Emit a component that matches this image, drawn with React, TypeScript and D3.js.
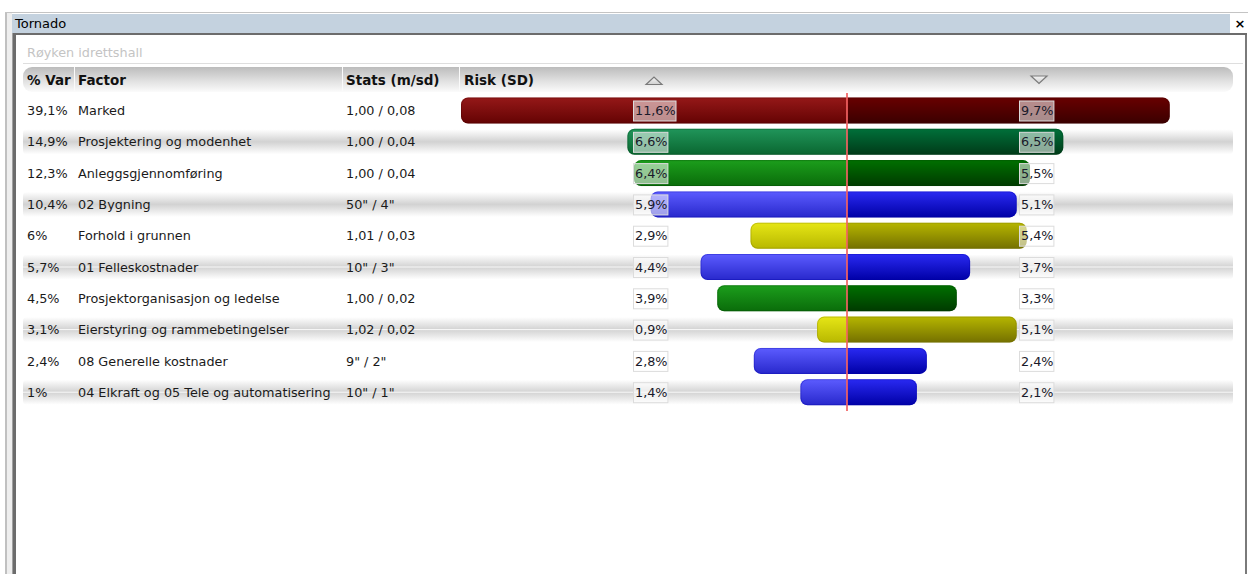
import React from 'react';
import * as d3 from 'd3';

const factors = [
  'Marked',
  'Prosjektering og modenhet',
  'Anleggsgjennomføring',
  '02 Bygning',
  'Forhold i grunnen',
  '01 Felleskostnader',
  'Prosjektorganisasjon og ledelse',
  'Eierstyring og rammebetingelser',
  '08 Generelle kostnader',
  '04 Elkraft og 05 Tele og automatisering',
];
const varShare = ['39,1%', '14,9%', '12,3%', '10,4%', '6%', '5,7%', '4,5%', '3,1%', '2,4%', '1%'];
const stats = ['1,00 / 0,08', '1,00 / 0,04', '1,00 / 0,04', '50" / 4"', '1,01 / 0,03', '10" / 3"', '1,00 / 0,02', '1,02 / 0,02', '9" / 2"', '10" / 1"'];
const downside = [11.6, 6.6, 6.4, 5.9, 2.9, 4.4, 3.9, 0.9, 2.8, 1.4];
const upside = [9.7, 6.5, 5.5, 5.1, 5.4, 3.7, 3.3, 5.1, 2.4, 2.1];
const barKind = ['red', 'teal', 'green', 'blue', 'yellow', 'blue', 'green', 'yellow', 'blue', 'blue'];
const headers = ['% Var', 'Factor', 'Stats (m/sd)', 'Risk (SD)'];

// left half (lighter) and right half (darker), top -> bottom
const palette: Record<string, { l: [string, string]; r: [string, string] }> = {
  red: { l: ['#951818', '#640303'], r: ['#680000', '#3a0000'] },
  teal: { l: ['#20955a', '#0a6630'], r: ['#00703a', '#003a18'] },
  green: { l: ['#1c9e1c', '#0a6c0a'], r: ['#007000', '#003a00'] },
  blue: { l: ['#5c5cff', '#2828cc'], r: ['#2a2af2', '#0000a6'] },
  yellow: { l: ['#e6e616', '#b8b800'], r: ['#b6b600', '#747000'] },
};

const W = 1248;
const H = 574;
const font = '"DejaVu Sans", Verdana, sans-serif';
const fs = 12.8;
const fmt = (v: number) => d3.format('.1f')(v).replace('.', ',') + '%';

export default function App() {
  const lim = d3.max(downside.concat(upside)) as number;
  const x = d3.scaleLinear().domain([-lim, lim]).range([461, 1233]);
  const y = d3.scalePoint<string>().domain(factors).range([110.5, 392.2]);
  const bh = 26;
  const cx = x(0);
  const colX = [27, 78, 346, 464];
  const labL = 633;
  const labR = 1019;
  const boxW = (s: string) => s.length * 8.1 + 2;

  return (
    <svg width={W} height={H} style={{ position: 'absolute', left: 0, top: 0 }} fontFamily={font}>
      <defs>
        {Object.entries(palette).map(([k, p]) => (
          <React.Fragment key={k}>
            <linearGradient id={`gl-${k}`} x1="0" y1="0" x2="0" y2="1">
              <stop offset="0" stopColor={p.l[0]} />
              <stop offset="1" stopColor={p.l[1]} />
            </linearGradient>
            <linearGradient id={`gr-${k}`} x1="0" y1="0" x2="0" y2="1">
              <stop offset="0" stopColor={p.r[0]} />
              <stop offset="1" stopColor={p.r[1]} />
            </linearGradient>
          </React.Fragment>
        ))}
        <linearGradient id="hdr" x1="0" y1="0" x2="0" y2="1">
          <stop offset="0" stopColor="#bcbcbc" />
          <stop offset="0.55" stopColor="#e0e0e0" />
          <stop offset="1" stopColor="#fbfbfb" />
        </linearGradient>
        <linearGradient id="band" x1="0" y1="0" x2="0" y2="1">
          <stop offset="0" stopColor="#ffffff" />
          <stop offset="0.5" stopColor="#d2d2d2" />
          <stop offset="1" stopColor="#ffffff" />
        </linearGradient>
        <linearGradient id="tri" x1="0" y1="0" x2="0" y2="1">
          <stop offset="0" stopColor="#f4f4f4" />
          <stop offset="1" stopColor="#d0d0d0" />
        </linearGradient>
        <clipPath id="clipL">
          <rect x={0} y={0} width={cx} height={H} />
        </clipPath>
        <clipPath id="clipR">
          <rect x={cx} y={0} width={W - cx} height={H} />
        </clipPath>
      </defs>

      <rect width={W} height={H} fill="#fff" />

      {/* window frame */}
      <rect x={5} y={12} width={W - 5} height={1} fill="#c4c4c4" />
      <rect x={5} y={13} width={2} height={H - 13} fill="#c0c0c0" />
      <rect x={7} y={13} width={5} height={H - 13} fill="#eeeeee" />
      <rect x={12} y={14} width={1218} height={19} fill="#c4d2df" />
      <text x={15} y={28} fontSize={13} fill="#000">Tornado</text>
      <text x={1240} y={28} fontSize={13} fontWeight="bold" textAnchor="middle" fill="#000">×</text>
      <rect x={12} y={33} width={1235} height={2} fill="#6c6c6c" />
      <rect x={12} y={33} width={1} height={H - 33} fill="#a0a0a0" />
      <rect x={13} y={33} width={3} height={H - 33} fill="#6c6c6c" />
      <rect x={1245} y={35} width={2} height={H - 35} fill="#7a7a7a" />

      <text x={27} y={57} fontSize={fs} fill="#c4c4c4">Røyken idrettshall</text>
      <rect x={23} y={63} width={1220} height={1} fill="#dedede" />

      {/* header */}
      <rect x={23} y={67} width={1210} height={25} rx={9} fill="url(#hdr)" />
      {[74, 342, 459].map(sx => (
        <rect key={sx} x={sx} y={67} width={1} height={25} fill="#fafafa" />
      ))}
      {headers.map((h, i) => (
        <text key={h} x={colX[i]} y={84.5} fontSize={13.5} fontWeight="bold" fill="#111">{h}</text>
      ))}
      <path d={`M${labL + 13},${84.5} L${labL + 21},${77} L${labL + 29},${84.5} Z`} fill="url(#tri)" stroke="#7a7a7a" strokeWidth={1.2} />
      <path d={`M${labR + 12},${76} L${labR + 28},${76} L${labR + 20},${83.5} Z`} fill="url(#tri)" stroke="#7a7a7a" strokeWidth={1.2} />

      {/* alternating row bands */}
      {factors.map((f, i) =>
        i % 2 === 1 ? (
          <g key={f}>
            <rect x={23} y={(y(f) as number) - 12.5} width={1210} height={25} rx={4} fill="url(#band)" />
            {i >= 5 && <rect x={23} y={(y(f) as number) - 0.5} width={1210} height={1} fill="#fafafa" />}
          </g>
        ) : null
      )}

      {/* table text */}
      {factors.map((f, i) => {
        const cy = y(f) as number;
        return (
          <g key={f} fontSize={fs} fill="#1a1a1a">
            <text x={colX[0]} y={cy} dy="0.36em">{varShare[i]}</text>
            <text x={colX[1]} y={cy} dy="0.36em">{f}</text>
            <text x={colX[2]} y={cy} dy="0.36em">{stats[i]}</text>
          </g>
        );
      })}

      {/* tornado bars */}
      {factors.map((f, i) => {
        const cy = y(f) as number;
        const x0 = x(-downside[i]);
        const x1 = x(upside[i]);
        const k = barKind[i];
        return (
          <g key={f}>
            <rect x={x0} y={cy - bh / 2} width={x1 - x0} height={bh} rx={7} fill={`url(#gl-${k})`} clipPath="url(#clipL)" />
            <rect x={x0} y={cy - bh / 2} width={x1 - x0} height={bh} rx={7} fill={`url(#gr-${k})`} clipPath="url(#clipR)" />
            <rect x={x0 + 0.5} y={cy - bh / 2 + 0.5} width={x1 - x0 - 1} height={bh - 1} rx={7} fill="none" stroke={palette[k].r[1]} strokeOpacity={0.3} />
          </g>
        );
      })}

      <line x1={cx} x2={cx} y1={93} y2={411} stroke="#f26262" strokeWidth={2} strokeOpacity={0.85} />

      {/* value labels */}
      {factors.map((f, i) => {
        const cy = y(f) as number;
        const sL = fmt(downside[i]);
        const sR = fmt(upside[i]);
        return (
          <g key={f}>
            <rect x={labL + 0.5} y={cy - 9.5} width={boxW(sL)} height={20} fill="#fff" fillOpacity={0.55} stroke="#dcdcdc" />
            <text x={labL + 2} y={cy} dy="0.36em" fontSize={fs} fill="#1a1a2a">{sL}</text>
            <rect x={labR + 0.5} y={cy - 9.5} width={boxW(sR)} height={20} fill="#fff" fillOpacity={0.55} stroke="#dcdcdc" />
            <text x={labR + 2} y={cy} dy="0.36em" fontSize={fs} fill="#1a1a2a">{sR}</text>
          </g>
        );
      })}
    </svg>
  );
}
